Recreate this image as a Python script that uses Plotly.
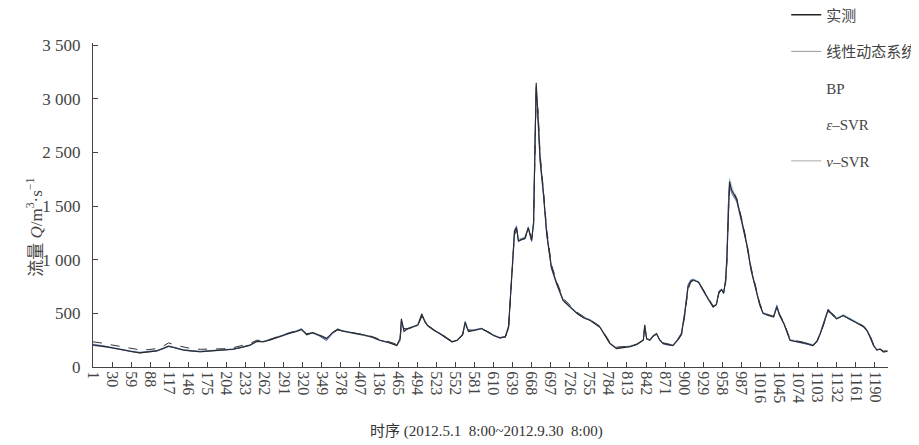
import plotly.graph_objects as go

# ---- data ----
t = [1, 10, 20, 30, 45, 60, 72, 85, 98, 108,
     116, 125, 138, 150, 164, 180, 199, 214, 228, 240,
     250, 260, 270, 285, 300, 310, 318, 326, 335, 345,
     356, 365, 373, 380, 390, 402, 412, 425, 437, 450,
     463, 468, 470, 474, 480, 488, 495, 501, 506, 510,
     520, 529, 540, 547, 555, 563, 567, 572, 580, 592,
     600, 610, 620, 628, 633, 636, 640, 642, 645, 648,
     652, 658, 663, 668, 671, 673, 675, 678, 681, 686,
     691, 698, 706, 716, 726, 737, 747, 757, 765, 772,
     780, 787, 797, 808, 818, 828, 838, 840, 843, 848,
     853, 858, 863, 868, 876, 883, 890, 896, 901, 906,
     910, 914, 922, 930, 938, 944, 949, 953, 957, 960,
     963, 965, 967, 969, 972, 975, 980, 988, 995, 1002,
     1010, 1015, 1020, 1028, 1036, 1041, 1045, 1052, 1061, 1068,
     1076, 1086, 1096, 1102, 1107, 1113, 1119, 1125, 1132, 1142,
     1150, 1160, 1173, 1178, 1183, 1188, 1193, 1198, 1203, 1209]

observed = [205, 200, 190, 180, 160, 145, 132, 140, 150, 175,
            195, 180, 158, 150, 142, 150, 155, 165, 185, 205,
            240, 235, 252, 285, 315, 330, 350, 300, 320, 295,
            262, 320, 352, 335, 325, 310, 300, 280, 250, 230,
            200, 260, 450, 330, 360, 375, 390, 495, 420, 385,
            340, 310, 260, 235, 250, 300, 420, 330, 340, 358,
            330, 295, 270, 280, 370, 690, 1000, 1270, 1300, 1170,
            1190, 1200, 1300, 1180, 1340, 2000, 2650, 2300, 1930, 1620,
            1240, 930, 780, 620, 560, 500, 460, 435, 400, 370,
            290, 220, 172, 180, 190, 210, 250, 390, 260, 250,
            290, 310, 250, 218, 205, 200, 250, 310, 500, 750,
            800, 810, 790, 700, 620, 560, 580, 700, 720, 690,
            800, 1000, 1450, 1730, 1650, 1620, 1560, 1350, 1150, 900,
            690, 580, 500, 480, 465, 560, 485, 400, 250, 240,
            233, 220, 200, 240, 310, 420, 530, 490, 450, 480,
            450, 420, 375, 340, 280, 200, 158, 165, 140, 145]

lds = [200, 195, 186, 176, 157, 142, 130, 138, 148, 170,
       190, 178, 156, 148, 140, 148, 153, 163, 182, 200,
       235, 232, 248, 282, 312, 328, 345, 305, 316, 292,
       258, 316, 348, 333, 322, 308, 298, 278, 248, 228,
       198, 240, 420, 340, 356, 372, 386, 480, 425, 388,
       342, 312, 262, 236, 248, 296, 400, 338, 338, 355,
       332, 296, 272, 278, 360, 670, 980, 1260, 1295, 1180,
       1185, 1198, 1295, 1185, 1330, 1950, 2620, 2330, 1950, 1630,
       1250, 940, 785, 625, 562, 502, 462, 437, 402, 372,
       292, 222, 175, 182, 192, 210, 250, 370, 268, 252,
       288, 310, 252, 220, 207, 202, 248, 308, 495, 740,
       800, 808, 792, 702, 622, 562, 578, 698, 720, 692,
       795, 990, 1430, 1720, 1660, 1625, 1562, 1355, 1155, 905,
       692, 582, 502, 482, 467, 555, 488, 402, 252, 242,
       235, 222, 202, 238, 308, 418, 528, 492, 452, 478,
       452, 422, 377, 342, 282, 202, 160, 166, 142, 146]

bp = [235, 228, 218, 205, 188, 172, 160, 162, 172, 195,
      225, 205, 185, 172, 165, 168, 170, 180, 200, 220,
      250, 245, 258, 290, 320, 335, 345, 310, 318, 300,
      270, 315, 345, 338, 328, 312, 302, 285, 258, 238,
      212, 250, 400, 360, 355, 372, 385, 470, 430, 390,
      345, 318, 268, 242, 252, 295, 390, 345, 342, 352,
      335, 300, 275, 282, 350, 640, 960, 1230, 1280, 1190,
      1185, 1195, 1280, 1200, 1310, 1900, 2550, 2380, 1980, 1650,
      1280, 960, 800, 640, 575, 510, 470, 440, 408, 378,
      300, 232, 185, 188, 195, 212, 248, 360, 280, 255,
      285, 305, 258, 225, 212, 205, 245, 300, 480, 720,
      790, 805, 792, 710, 630, 570, 578, 690, 715, 695,
      780, 970, 1400, 1680, 1670, 1630, 1570, 1370, 1170, 920,
      710, 595, 515, 488, 470, 540, 495, 410, 262, 245,
      238, 225, 208, 235, 300, 410, 515, 500, 458, 475,
      455, 425, 380, 345, 290, 210, 165, 168, 148, 150]

eps_svr = [210, 203, 192, 178, 158, 143, 135, 142, 152, 172,
           190, 182, 160, 152, 145, 152, 157, 166, 183, 202,
           236, 238, 255, 290, 318, 334, 355, 305, 318, 290,
           245, 310, 348, 338, 322, 308, 298, 278, 248, 226,
           205, 270, 430, 340, 355, 370, 395, 480, 415, 380,
           338, 305, 258, 232, 248, 305, 400, 335, 345, 360,
           328, 292, 268, 285, 390, 720, 1050, 1250, 1310, 1180,
           1180, 1210, 1290, 1170, 1360, 2100, 2600, 2250, 1900, 1600,
           1230, 920, 770, 615, 555, 495, 458, 432, 398, 368,
           288, 218, 175, 182, 192, 212, 255, 380, 262, 248,
           292, 308, 248, 215, 203, 202, 255, 318, 520, 770,
           810, 815, 785, 695, 615, 555, 585, 705, 725, 680,
           820, 1050, 1500, 1700, 1620, 1590, 1540, 1330, 1140, 890,
           680, 575, 498, 478, 470, 575, 480, 395, 248, 238,
           230, 218, 198, 245, 318, 430, 540, 485, 448, 482,
           448, 418, 372, 338, 275, 198, 160, 168, 142, 148]

nu_svr = [215, 208, 196, 184, 165, 150, 140, 146, 156, 178,
          198, 186, 163, 155, 148, 155, 160, 170, 190, 208,
          245, 240, 258, 292, 322, 338, 358, 310, 325, 300,
          268, 318, 356, 342, 330, 315, 305, 285, 255, 234,
          206, 255, 440, 345, 365, 380, 398, 500, 425, 390,
          345, 315, 265, 240, 255, 310, 430, 340, 348, 362,
          335, 300, 275, 285, 375, 700, 1020, 1280, 1320, 1190,
          1200, 1215, 1310, 1190, 1350, 2050, 2620, 2320, 1950, 1640,
          1260, 945, 790, 630, 570, 510, 470, 445, 410, 380,
          298, 228, 180, 188, 198, 218, 258, 400, 270, 258,
          298, 318, 258, 225, 212, 208, 258, 320, 510, 760,
          812, 822, 800, 710, 628, 568, 590, 710, 730, 700,
          810, 1020, 1480, 1760, 1700, 1640, 1575, 1365, 1165, 915,
          700, 590, 510, 490, 478, 580, 495, 410, 258, 248,
          240, 228, 210, 248, 318, 430, 540, 500, 460, 490,
          460, 430, 385, 350, 290, 208, 165, 172, 148, 152]

x_tickvals = [1, 30, 59, 88, 117, 146, 175, 204, 233, 262, 291, 320, 349, 378,
              407, 436, 465, 494, 523, 552, 581, 610, 639, 668, 697, 726, 755,
              784, 813, 842, 871, 900, 929, 958, 987, 1016, 1045, 1074, 1103,
              1132, 1161, 1190]
x_ticktext = ["1", "30", "59", "88", "117", "146", "175", "204", "233", "262",
              "291", "320", "349", "378", "407", "136", "465", "494", "523",
              "552", "581", "610", "639", "668", "697", "726", "755", "784",
              "813", "842", "871", "900", "929", "958", "987", "1016", "1045",
              "1074", "1103", "1132", "1161", "1190"]
y_tickvals = [0, 500, 1000, 1500, 2000, 2500, 3000]
y_ticktext = ["0", "500", "1 000", "1 500", "2 500", "3 000", "3 500"]

legend_names = ["实测", "线性动态系统", "BP", "<i>ε</i>–SVR", "<i>ν</i>–SVR"]
legend_colors = ["#222222", "#9a9a9a", "rgba(0,0,0,0)", "rgba(0,0,0,0)", "#a8a8a8"]
legend_widths = [1.5, 1, 0.1, 0.1, 1]

FONT = "Liberation Serif, Times New Roman, Noto Sans CJK SC, serif"

fig = go.Figure()
# data traces (light first, observed on top)
fig.add_trace(go.Scatter(x=t, y=nu_svr, mode="lines", showlegend=False,
                         line=dict(color="#a9cfe0", width=1)))
fig.add_trace(go.Scatter(x=t, y=lds, mode="lines", showlegend=False,
                         line=dict(color="#9a9a9a", width=1)))
fig.add_trace(go.Scatter(x=t, y=eps_svr, mode="lines", showlegend=False,
                         line=dict(color="#5b6fc4", width=1)))
fig.add_trace(go.Scatter(x=t, y=observed, mode="lines", showlegend=False,
                         line=dict(color="#2a2a2a", width=1.1)))
fig.add_trace(go.Scatter(x=t, y=bp, mode="lines", showlegend=False,
                         line=dict(color="#333333", width=1, dash="dash")))

# legend entries
for i, (nm, c, w) in enumerate(zip(legend_names, legend_colors, legend_widths)):
    fig.add_trace(go.Scatter(x=[None], y=[None], mode="lines", name=nm,
                             legendgroup=f"g{i}", legendrank=i + 1,
                             line=dict(color=c, width=w)))

# page body adds an 8px offset; figure is sized to fit the 919x445 window
fig.update_layout(
    width=911, height=437,
    margin=dict(l=85, r=31, t=35, b=78, autoexpand=False),
    paper_bgcolor="white", plot_bgcolor="white",
    font=dict(family=FONT, color="#333333", size=15),
    showlegend=True,
    legend=dict(x=0.872, y=1.137, xanchor="left", yanchor="top",
                bgcolor="rgba(0,0,0,0)", tracegroupgap=14,
                font=dict(size=15, family=FONT, color="#444444")),
    xaxis=dict(range=[1, 1210], tickmode="array", tickvals=x_tickvals,
               ticktext=x_ticktext, tickangle=90, ticks="inside", ticklen=5,
               tickcolor="#444444", showline=True, linecolor="#444444",
               linewidth=1, showgrid=False, zeroline=False,
               tickfont=dict(size=16, family=FONT, color="#444444")),
    yaxis=dict(range=[0, 3020], tickmode="array", tickvals=y_tickvals,
               ticktext=y_ticktext, ticks="inside", ticklen=5,
               tickcolor="#444444", showline=True, linecolor="#444444",
               linewidth=1, showgrid=False, zeroline=False,
               ticklabelstandoff=8,
               tickfont=dict(size=17, family=FONT, color="#444444")),
    annotations=[
        dict(text="流量 <i>Q</i>/m<sup>3</sup>·s<sup>−1</sup>", textangle=-90,
             xref="paper", yref="paper", x=-0.074, y=0.43,
             xanchor="center", yanchor="middle", showarrow=False,
             font=dict(size=17, family=FONT, color="#444444")),
        dict(text="时序 (2012.5.1  8:00~2012.9.30  8:00)",
             xref="paper", yref="paper", x=0.495, y=-0.2,
             xanchor="center", yanchor="middle", showarrow=False,
             font=dict(size=15, family=FONT, color="#333333")),
    ],
)

fig.write_html("out.html")
